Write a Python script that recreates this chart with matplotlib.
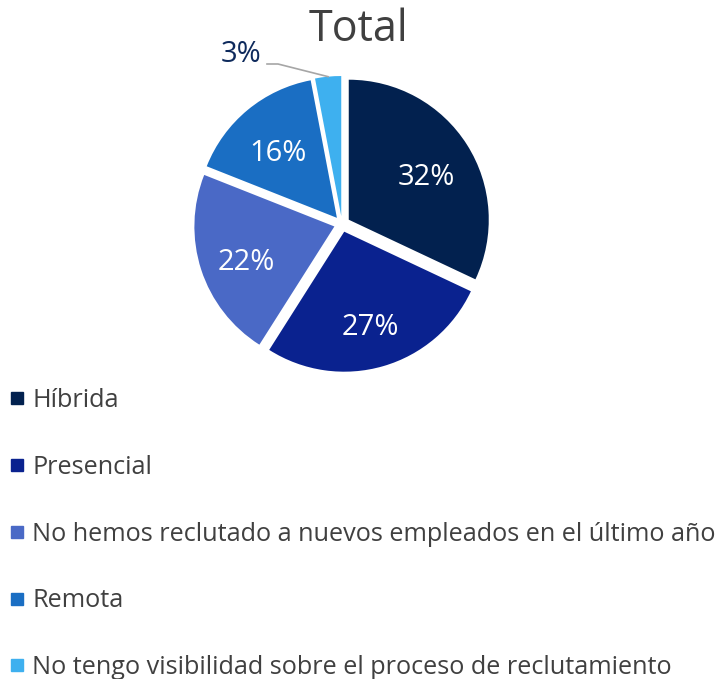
import numpy as np
import matplotlib.pyplot as plt
from matplotlib.lines import Line2D

plt.rcParams["font.family"] = ["Open Sans", "DejaVu Sans"]

categories = [
    "Híbrida",
    "Presencial",
    "No hemos reclutado a nuevos empleados en el último año",
    "Remota",
    "No tengo visibilidad sobre el proceso de reclutamiento",
]
shares = [32, 27, 22, 16, 3]
colors = ["#02214F", "#0A228F", "#4A69C6", "#1A6EC3", "#3EB0EF"]

# figure in pixel units: 720 x 679
fig = plt.figure(figsize=(7.2, 6.79), dpi=100)
ax = fig.add_axes([0, 0, 1, 1])

R = 140
cx, cy = 342, 679 - 224
wedges, texts, autotexts = ax.pie(
    shares,
    colors=colors,
    startangle=90,
    counterclock=False,
    radius=R,
    center=(cx, cy),
    explode=[8] * len(shares),
    autopct=lambda p: f"{p:.0f}%" if p >= 5 else "",
    pctdistance=0.66,
    textprops={"color": "white", "fontsize": 21},
    wedgeprops={"linewidth": 0},
)
# labels sit a little lower than matplotlib's centring
for t in autotexts:
    x, y = t.get_position()
    t.set_position((x, y - 7))

ax.set_xlim(0, 720)
ax.set_ylim(0, 679)
ax.set_aspect("equal")
ax.axis("off")

# small slice labelled outside with a leader line
w = wedges[-1]
th = np.deg2rad((w.theta1 + w.theta2) / 2)
edge = (w.center[0] + R * np.cos(th), w.center[1] + R * np.sin(th))
tx, ty = 241, 679 - 55
ax.text(tx, ty, f"{shares[-1]}%", ha="center", va="center", fontsize=21, color="#0E2A5C")
ax.plot([tx + 26, tx + 37, edge[0]], [ty - 9, ty - 9, edge[1]], color="#A6A6A6", lw=1.2)

ax.text(358, 679 - 30, "Total", ha="center", va="center", fontsize=31, color="#404040")

handles = [
    Line2D([], [], marker="s", linestyle="none", markersize=8, color=c) for c in colors
]
fig.legend(
    handles,
    categories,
    loc="upper left",
    bbox_to_anchor=(2 / 720, 1 - 382 / 679),
    frameon=False,
    fontsize=18.2,
    labelcolor="#404040",
    handlelength=0.7,
    handletextpad=0.25,
    labelspacing=1.65,
    borderpad=0.2,
    borderaxespad=0.05,
)

plt.savefig("out.png", dpi=100)
plt.close()
